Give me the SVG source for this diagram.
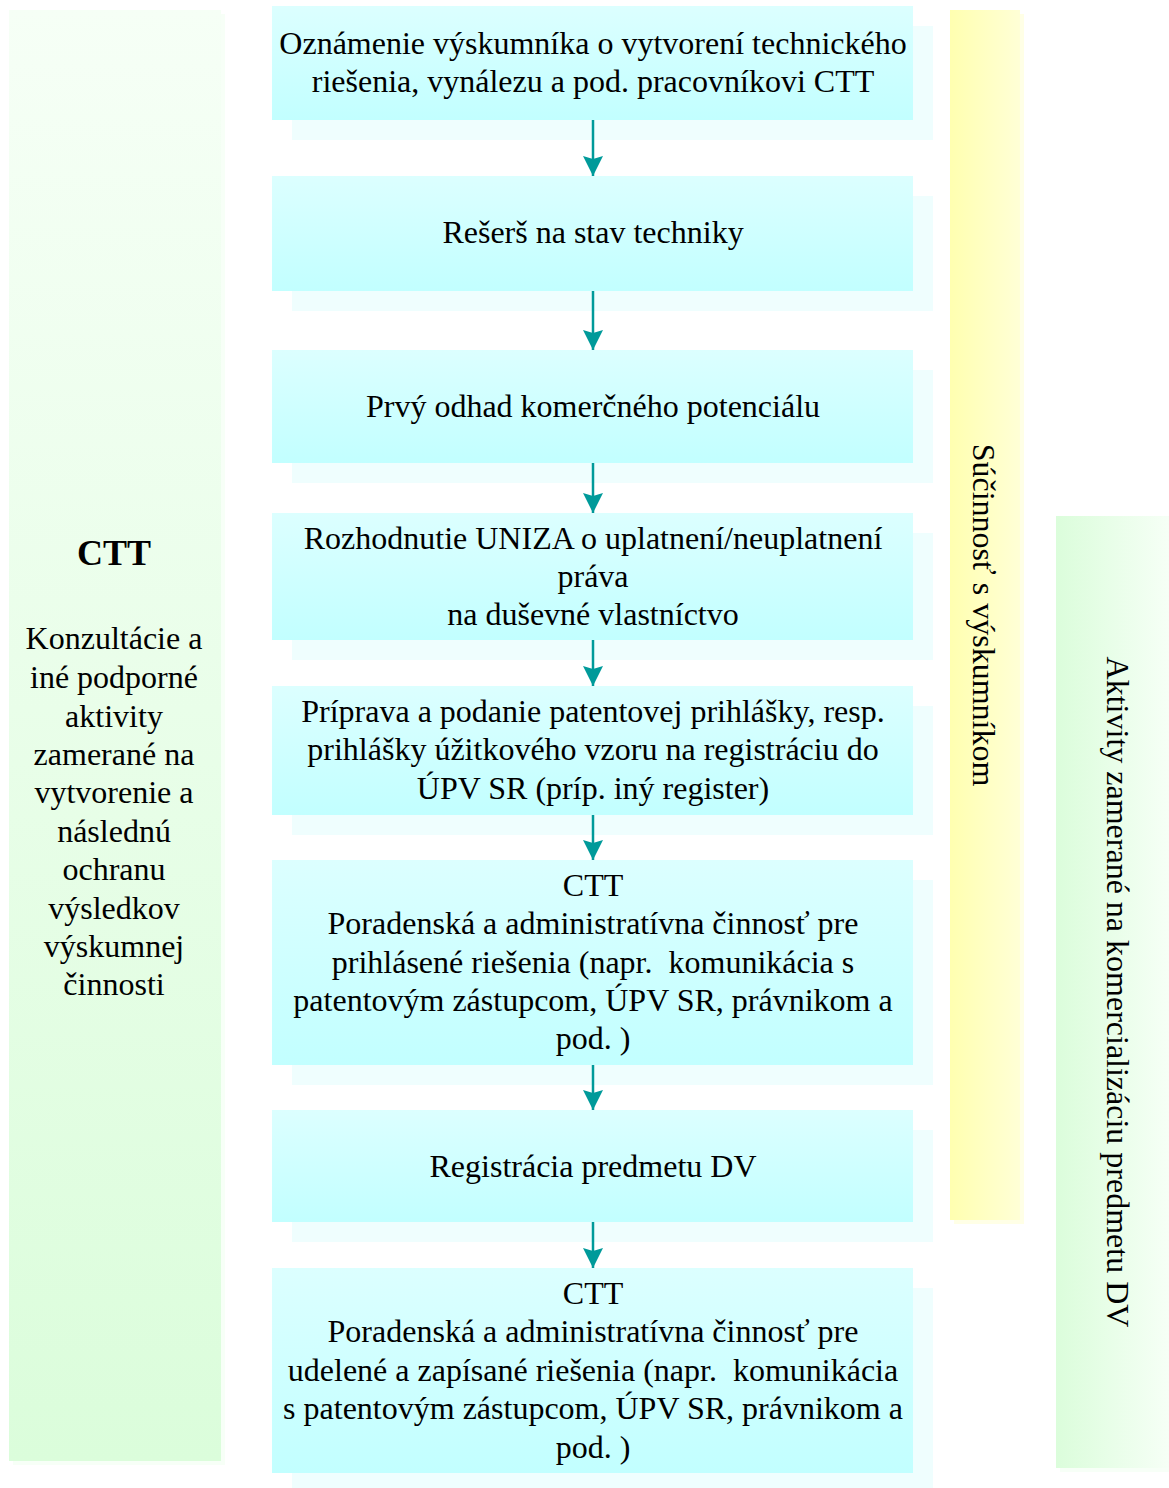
<svg xmlns="http://www.w3.org/2000/svg" width="1169" height="1488" viewBox="0 0 1169 1488">
<defs>
<linearGradient id="gBox" x1="0" y1="0" x2="0" y2="1"><stop offset="0" stop-color="#dcffff"/><stop offset="1" stop-color="#c2ffff"/></linearGradient>
<linearGradient id="gLeft" x1="0" y1="0" x2="0" y2="1"><stop offset="0" stop-color="#f6fff6"/><stop offset="1" stop-color="#dbfddb"/></linearGradient>
<linearGradient id="gYel" x1="0" y1="0" x2="1" y2="0"><stop offset="0" stop-color="#ffffb0"/><stop offset="1" stop-color="#ffffd6"/></linearGradient>
<linearGradient id="gGreen" x1="0" y1="0" x2="1" y2="0"><stop offset="0" stop-color="#dbfddb"/><stop offset="1" stop-color="#f6fff6"/></linearGradient>
<marker id="ah" viewBox="0 0 20 20" refX="20" refY="10" markerWidth="20" markerHeight="20" markerUnits="userSpaceOnUse" orient="auto"><path d="M0,0 L20,10 L0,20 L3,10 z" fill="#009a9a"/></marker>
</defs>
<style>
.box{fill:url(#gBox)}
.sh{fill:#effefe}
.t{font-family:"Liberation Serif","Times New Roman",serif;font-size:32px;fill:#000;text-anchor:middle}
.b{font-weight:bold;font-size:36px}
.c{stroke:#009a9a;stroke-width:2.5;fill:none}
.pre{white-space:pre}
</style>
<rect width="1169" height="1488" fill="#ffffff"/>

<g id="leftPanel">
<rect x="13" y="14" width="212" height="1451" fill="#f7fff7"/>
<rect x="9" y="10" width="212" height="1451" fill="url(#gLeft)"/>
<text class="t b" x="114" y="565">CTT</text>
<text class="t" x="114" y="649">Konzultácie a</text>
<text class="t" x="114" y="688">iné podporné</text>
<text class="t" x="114" y="727">aktivity</text>
<text class="t" x="114" y="765">zamerané na</text>
<text class="t" x="114" y="803">vytvorenie a</text>
<text class="t" x="114" y="842">následnú</text>
<text class="t" x="114" y="880">ochranu</text>
<text class="t" x="114" y="919">výsledkov</text>
<text class="t" x="114" y="957">výskumnej</text>
<text class="t" x="114" y="995">činnosti</text>
</g>

<g id="yellowBar">
<rect x="954" y="14" width="70" height="1210" fill="#ffffe6"/>
<rect x="950" y="10" width="70" height="1210" fill="url(#gYel)"/>
<text class="t" transform="translate(973,615) rotate(90)" x="0" y="0">Súčinnosť s výskumníkom</text>
</g>

<g id="greenBar">
<rect x="1060" y="520" width="113" height="952" fill="#f7fff7"/>
<rect x="1056" y="516" width="113" height="952" fill="url(#gGreen)"/>
<text class="t" transform="translate(1107,992) rotate(90)" x="0" y="0">Aktivity zamerané na komercializáciu predmetu DV</text>
</g>

<g id="n1"><rect class="sh" x="292" y="26" width="641" height="114"/><rect class="box" x="272" y="6" width="641" height="114"/>
<text class="t" x="593" y="54">Oznámenie výskumníka o vytvorení technického</text>
<text class="t" x="593" y="92">riešenia, vynálezu a pod. pracovníkovi CTT</text></g>

<g id="n2"><rect class="sh" x="292" y="196" width="641" height="115"/><rect class="box" x="272" y="176" width="641" height="115"/>
<text class="t" x="593" y="243">Rešerš na stav techniky</text></g>

<g id="n3"><rect class="sh" x="292" y="370" width="641" height="113"/><rect class="box" x="272" y="350" width="641" height="113"/>
<text class="t" x="593" y="417">Prvý odhad komerčného potenciálu</text></g>

<g id="n4"><rect class="sh" x="292" y="533" width="641" height="127"/><rect class="box" x="272" y="513" width="641" height="127"/>
<text class="t" x="593" y="549">Rozhodnutie UNIZA o uplatnení/neuplatnení</text>
<text class="t" x="593" y="587">práva</text>
<text class="t" x="593" y="625">na duševné vlastníctvo</text></g>

<g id="n5"><rect class="sh" x="292" y="706" width="641" height="129"/><rect class="box" x="272" y="686" width="641" height="129"/>
<text class="t" x="593" y="722">Príprava a podanie patentovej prihlášky, resp.</text>
<text class="t" x="593" y="760">prihlášky úžitkového vzoru na registráciu do</text>
<text class="t" x="593" y="799">ÚPV SR (príp. iný register)</text></g>

<g id="n6"><rect class="sh" x="292" y="880" width="641" height="205"/><rect class="box" x="272" y="860" width="641" height="205"/>
<text class="t" x="593" y="896">CTT</text>
<text class="t" x="593" y="934">Poradenská a administratívna činnosť pre</text>
<text class="t pre" x="593" y="973">prihlásené riešenia (napr.  komunikácia s</text>
<text class="t" x="593" y="1011">patentovým zástupcom, ÚPV SR, právnikom a</text>
<text class="t" x="593" y="1049">pod. )</text></g>

<g id="n7"><rect class="sh" x="292" y="1130" width="641" height="112"/><rect class="box" x="272" y="1110" width="641" height="112"/>
<text class="t" x="593" y="1177">Registrácia predmetu DV</text></g>

<g id="n8"><rect class="sh" x="292" y="1288" width="641" height="200"/><rect class="box" x="272" y="1268" width="641" height="205"/>
<text class="t" x="593" y="1304">CTT</text>
<text class="t" x="593" y="1342">Poradenská a administratívna činnosť pre</text>
<text class="t pre" x="593" y="1381">udelené a zapísané riešenia (napr.  komunikácia</text>
<text class="t" x="593" y="1419">s patentovým zástupcom, ÚPV SR, právnikom a</text>
<text class="t" x="593" y="1458">pod. )</text></g>

<g id="connectors">
<line class="c" x1="593" y1="120" x2="593" y2="176" marker-end="url(#ah)"/>
<line class="c" x1="593" y1="291" x2="593" y2="350" marker-end="url(#ah)"/>
<line class="c" x1="593" y1="463" x2="593" y2="513" marker-end="url(#ah)"/>
<line class="c" x1="593" y1="640" x2="593" y2="686" marker-end="url(#ah)"/>
<line class="c" x1="593" y1="815" x2="593" y2="860" marker-end="url(#ah)"/>
<line class="c" x1="593" y1="1065" x2="593" y2="1110" marker-end="url(#ah)"/>
<line class="c" x1="593" y1="1222" x2="593" y2="1268" marker-end="url(#ah)"/>
</g>
</svg>
